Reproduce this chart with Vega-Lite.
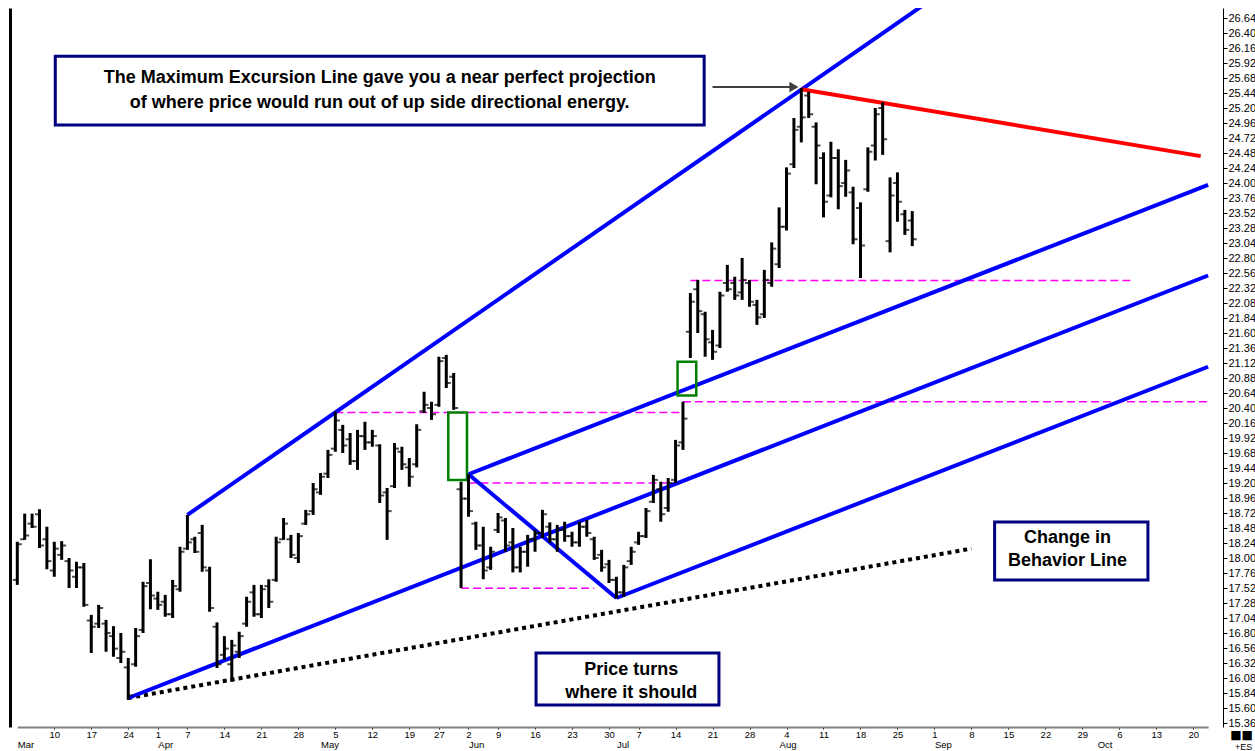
{
  "$schema": "https://vega.github.io/schema/vega-lite/v6.json",
  "width": 1213,
  "height": 719,
  "autosize": {"type": "none"},
  "padding": {"left": 10, "top": 8, "right": 32, "bottom": 24},
  "background": "white",
  "config": {"view": {"stroke": null}, "font": "Liberation Sans", "axis": {"labelFont": "Liberation Sans", "titleFont": "Liberation Sans"}},
  "datasets": {
    "ohlc": [
      {"d":"2008-03-03","o":17.65,"h":18.26,"l":17.57,"c":18.22},
      {"d":"2008-03-04","o":18.30,"h":18.71,"l":18.29,"c":18.36},
      {"d":"2008-03-05","o":18.55,"h":18.71,"l":18.48,"c":18.50},
      {"d":"2008-03-06","o":18.70,"h":18.78,"l":18.16,"c":18.20},
      {"d":"2008-03-07","o":18.30,"h":18.50,"l":17.82,"c":17.95},
      {"d":"2008-03-10","o":17.80,"h":18.26,"l":17.70,"c":18.15},
      {"d":"2008-03-11","o":18.05,"h":18.27,"l":17.97,"c":18.20},
      {"d":"2008-03-12","o":17.95,"h":18.00,"l":17.52,"c":17.80},
      {"d":"2008-03-13","o":17.70,"h":17.94,"l":17.52,"c":17.85},
      {"d":"2008-03-14","o":17.85,"h":17.92,"l":17.22,"c":17.25},
      {"d":"2008-03-17","o":17.00,"h":17.09,"l":16.48,"c":16.90},
      {"d":"2008-03-18","o":16.95,"h":17.25,"l":16.88,"c":17.20},
      {"d":"2008-03-19","o":16.95,"h":17.01,"l":16.50,"c":16.80},
      {"d":"2008-03-20","o":16.75,"h":16.91,"l":16.42,"c":16.55},
      {"d":"2008-03-21","o":16.40,"h":16.80,"l":16.32,"c":16.50},
      {"d":"2008-03-24","o":16.25,"h":16.40,"l":15.73,"c":15.80},
      {"d":"2008-03-25","o":16.30,"h":16.88,"l":16.26,"c":16.75},
      {"d":"2008-03-26","o":16.85,"h":17.62,"l":16.80,"c":17.55},
      {"d":"2008-03-27","o":17.60,"h":17.98,"l":17.18,"c":17.40},
      {"d":"2008-04-01","o":17.35,"h":17.46,"l":17.17,"c":17.25},
      {"d":"2008-04-02","o":17.30,"h":17.41,"l":17.06,"c":17.10},
      {"d":"2008-04-03","o":17.10,"h":17.65,"l":17.04,"c":17.55},
      {"d":"2008-04-04","o":17.50,"h":18.18,"l":17.46,"c":18.10},
      {"d":"2008-04-07","o":18.15,"h":18.69,"l":18.13,"c":18.25},
      {"d":"2008-04-08","o":18.30,"h":18.34,"l":18.08,"c":18.10},
      {"d":"2008-04-09","o":18.40,"h":18.53,"l":17.78,"c":17.85},
      {"d":"2008-04-10","o":17.80,"h":17.86,"l":17.14,"c":17.20},
      {"d":"2008-04-11","o":16.90,"h":16.97,"l":16.24,"c":16.30},
      {"d":"2008-04-14","o":16.45,"h":16.75,"l":16.37,"c":16.55},
      {"d":"2008-04-15","o":16.30,"h":16.69,"l":16.02,"c":16.60},
      {"d":"2008-04-16","o":16.50,"h":16.82,"l":16.40,"c":16.75},
      {"d":"2008-04-17","o":16.95,"h":17.38,"l":16.90,"c":17.30},
      {"d":"2008-04-18","o":17.45,"h":17.57,"l":17.06,"c":17.10},
      {"d":"2008-04-21","o":17.10,"h":17.57,"l":17.04,"c":17.50},
      {"d":"2008-04-22","o":17.55,"h":17.66,"l":17.20,"c":17.30},
      {"d":"2008-04-23","o":17.65,"h":18.34,"l":17.62,"c":18.25},
      {"d":"2008-04-24","o":18.30,"h":18.64,"l":18.29,"c":18.55},
      {"d":"2008-04-25","o":18.30,"h":18.37,"l":18.00,"c":18.05},
      {"d":"2008-04-28","o":18.00,"h":18.40,"l":17.92,"c":18.35},
      {"d":"2008-04-29","o":18.55,"h":18.77,"l":18.53,"c":18.70},
      {"d":"2008-04-30","o":18.75,"h":19.20,"l":18.69,"c":19.10},
      {"d":"2008-05-01","o":19.05,"h":19.36,"l":19.01,"c":19.30},
      {"d":"2008-05-02","o":19.35,"h":19.73,"l":19.28,"c":19.65},
      {"d":"2008-05-05","o":19.75,"h":20.34,"l":19.70,"c":20.20},
      {"d":"2008-05-06","o":20.05,"h":20.13,"l":19.68,"c":19.80},
      {"d":"2008-05-07","o":19.90,"h":20.00,"l":19.49,"c":19.55},
      {"d":"2008-05-08","o":19.55,"h":20.05,"l":19.41,"c":19.95},
      {"d":"2008-05-09","o":19.95,"h":20.18,"l":19.73,"c":19.85},
      {"d":"2008-05-12","o":19.85,"h":20.05,"l":19.78,"c":19.95},
      {"d":"2008-05-13","o":19.80,"h":19.82,"l":18.88,"c":19.00},
      {"d":"2008-05-14","o":19.05,"h":19.12,"l":18.29,"c":18.75},
      {"d":"2008-05-15","o":19.15,"h":19.84,"l":19.12,"c":19.75},
      {"d":"2008-05-16","o":19.70,"h":19.78,"l":19.41,"c":19.50},
      {"d":"2008-05-19","o":19.45,"h":19.60,"l":19.14,"c":19.30},
      {"d":"2008-05-20","o":19.50,"h":20.14,"l":19.45,"c":20.05},
      {"d":"2008-05-21","o":20.35,"h":20.66,"l":20.32,"c":20.45},
      {"d":"2008-05-22","o":20.40,"h":20.50,"l":20.21,"c":20.30},
      {"d":"2008-05-27","o":20.45,"h":21.22,"l":20.42,"c":21.15},
      {"d":"2008-05-28","o":21.20,"h":21.25,"l":20.72,"c":20.80},
      {"d":"2008-05-29","o":20.90,"h":20.96,"l":20.37,"c":20.40},
      {"d":"2008-05-30","o":19.10,"h":19.22,"l":17.52,"c":18.95},
      {"d":"2008-06-02","o":18.95,"h":19.34,"l":18.66,"c":18.75},
      {"d":"2008-06-03","o":18.55,"h":18.58,"l":18.13,"c":18.20},
      {"d":"2008-06-04","o":18.20,"h":18.50,"l":17.66,"c":17.80},
      {"d":"2008-06-05","o":17.85,"h":18.18,"l":17.81,"c":18.10},
      {"d":"2008-06-09","o":18.45,"h":18.72,"l":18.40,"c":18.65},
      {"d":"2008-06-10","o":18.60,"h":18.64,"l":18.10,"c":18.20},
      {"d":"2008-06-11","o":18.25,"h":18.48,"l":17.77,"c":17.85},
      {"d":"2008-06-12","o":17.85,"h":18.18,"l":17.77,"c":18.10},
      {"d":"2008-06-13","o":18.10,"h":18.37,"l":17.86,"c":18.30},
      {"d":"2008-06-16","o":18.30,"h":18.45,"l":18.10,"c":18.40},
      {"d":"2008-06-17","o":18.40,"h":18.77,"l":18.32,"c":18.70},
      {"d":"2008-06-18","o":18.50,"h":18.57,"l":18.24,"c":18.30},
      {"d":"2008-06-19","o":18.30,"h":18.53,"l":18.10,"c":18.45},
      {"d":"2008-06-20","o":18.45,"h":18.58,"l":18.26,"c":18.35},
      {"d":"2008-06-23","o":18.35,"h":18.42,"l":18.18,"c":18.25},
      {"d":"2008-06-24","o":18.25,"h":18.58,"l":18.18,"c":18.50},
      {"d":"2008-06-25","o":18.50,"h":18.61,"l":18.34,"c":18.40},
      {"d":"2008-06-26","o":18.30,"h":18.34,"l":17.97,"c":18.00},
      {"d":"2008-06-27","o":18.05,"h":18.13,"l":17.78,"c":17.85},
      {"d":"2008-06-30","o":17.90,"h":17.97,"l":17.60,"c":17.65},
      {"d":"2008-07-01","o":17.65,"h":17.70,"l":17.35,"c":17.45},
      {"d":"2008-07-02","o":17.45,"h":17.89,"l":17.38,"c":17.85},
      {"d":"2008-07-03","o":17.95,"h":18.18,"l":17.89,"c":18.10},
      {"d":"2008-07-07","o":18.25,"h":18.42,"l":18.21,"c":18.35},
      {"d":"2008-07-08","o":18.35,"h":18.80,"l":18.32,"c":18.75},
      {"d":"2008-07-09","o":18.90,"h":19.33,"l":18.88,"c":19.25},
      {"d":"2008-07-10","o":19.10,"h":19.22,"l":18.58,"c":18.70},
      {"d":"2008-07-11","o":18.80,"h":19.28,"l":18.74,"c":19.20},
      {"d":"2008-07-14","o":19.25,"h":19.89,"l":19.20,"c":19.80},
      {"d":"2008-07-15","o":19.85,"h":20.50,"l":19.73,"c":20.23},
      {"d":"2008-07-16","o":21.62,"h":22.24,"l":21.20,"c":22.10},
      {"d":"2008-07-17","o":22.30,"h":22.45,"l":21.60,"c":21.95},
      {"d":"2008-07-18","o":21.90,"h":21.94,"l":21.22,"c":21.50},
      {"d":"2008-07-21","o":21.45,"h":21.65,"l":21.17,"c":21.30},
      {"d":"2008-07-22","o":21.40,"h":22.26,"l":21.36,"c":22.20},
      {"d":"2008-07-23","o":22.40,"h":22.69,"l":22.26,"c":22.30},
      {"d":"2008-07-24","o":22.40,"h":22.50,"l":22.13,"c":22.20},
      {"d":"2008-07-25","o":22.25,"h":22.80,"l":22.13,"c":22.45},
      {"d":"2008-07-28","o":22.40,"h":22.45,"l":22.02,"c":22.10},
      {"d":"2008-07-29","o":22.05,"h":22.13,"l":21.73,"c":21.85},
      {"d":"2008-07-30","o":21.90,"h":22.61,"l":21.84,"c":22.45},
      {"d":"2008-07-31","o":22.40,"h":23.05,"l":22.34,"c":22.95},
      {"d":"2008-08-01","o":22.70,"h":23.61,"l":22.64,"c":23.30},
      {"d":"2008-08-04","o":23.30,"h":24.25,"l":23.24,"c":24.15},
      {"d":"2008-08-05","o":24.30,"h":25.04,"l":24.24,"c":24.85},
      {"d":"2008-08-06","o":24.90,"h":25.52,"l":24.65,"c":25.05},
      {"d":"2008-08-07","o":25.40,"h":25.46,"l":25.04,"c":25.10},
      {"d":"2008-08-08","o":24.90,"h":24.97,"l":23.98,"c":24.60},
      {"d":"2008-08-11","o":24.40,"h":24.49,"l":23.45,"c":23.70},
      {"d":"2008-08-12","o":23.80,"h":24.66,"l":23.77,"c":24.40},
      {"d":"2008-08-13","o":24.40,"h":24.54,"l":23.58,"c":23.95},
      {"d":"2008-08-14","o":24.00,"h":24.37,"l":23.78,"c":24.20},
      {"d":"2008-08-15","o":23.85,"h":23.94,"l":23.02,"c":23.10},
      {"d":"2008-08-18","o":23.60,"h":23.69,"l":22.48,"c":23.00},
      {"d":"2008-08-19","o":23.90,"h":24.57,"l":23.86,"c":24.50},
      {"d":"2008-08-20","o":24.60,"h":25.20,"l":24.36,"c":25.10},
      {"d":"2008-08-21","o":25.20,"h":25.29,"l":24.45,"c":24.70},
      {"d":"2008-08-22","o":23.07,"h":24.09,"l":22.89,"c":23.80},
      {"d":"2008-08-25","o":24.00,"h":24.17,"l":23.38,"c":23.70},
      {"d":"2008-08-26","o":23.50,"h":23.57,"l":23.17,"c":23.25},
      {"d":"2008-08-27","o":23.40,"h":23.55,"l":22.99,"c":23.10}
    ],
    "blue": [
      {"id":"mel","d":"2008-04-07","p":18.69},{"id":"mel","d":"2008-09-01","p":26.97},
      {"id":"up","d":"2008-06-02","p":19.34},{"id":"up","d":"2008-10-22","p":23.97},
      {"id":"med","d":"2008-03-24","p":15.76},{"id":"med","d":"2008-10-22","p":22.52},
      {"id":"low","d":"2008-07-01","p":17.36},{"id":"low","d":"2008-10-22","p":21.06},
      {"id":"diag","d":"2008-06-02","p":19.34},{"id":"diag","d":"2008-07-01","p":17.36}
    ],
    "red": [{"d":"2008-08-06","p":25.50},{"d":"2008-10-21","p":24.43}],
    "dotted": [{"d":"2008-03-24","p":15.76},{"d":"2008-09-08","p":18.15}],
    "levels": [
      {"d1":"2008-05-05","d2":"2008-07-15","p":20.33},
      {"d1":"2008-07-15","d2":"2008-10-22","p":20.50},
      {"d1":"2008-06-02","d2":"2008-07-15","p":19.20},
      {"d1":"2008-05-30","d2":"2008-06-26","p":17.515},
      {"d1":"2008-07-16","d2":"2008-10-08","p":22.44}
    ],
    "gaps": [
      {"d1":"2008-05-28","d2":"2008-06-02","p1":19.25,"p2":20.33},
      {"d1":"2008-07-14","d2":"2008-07-17","p1":20.60,"p2":21.14}
    ],
    "boxes": [
      {"d1":"2008-03-10","d2":"2008-07-18","p1":24.93,"p2":26.03},
      {"d1":"2008-06-16","d2":"2008-07-22","p1":15.65,"p2":16.48},
      {"d1":"2008-09-11","d2":"2008-10-10","p1":17.648,"p2":18.576}
    ],
    "notes": [
      {"d":"2008-05-13","p":25.68,"t":"The Maximum Excursion Line gave you a near perfect projection"},
      {"d":"2008-05-13","p":25.28,"t":"of where price would run out of up side directional energy."},
      {"d":"2008-07-03","p":16.21,"t":"Price turns"},
      {"d":"2008-07-03","p":15.84,"t":"where it should"},
      {"d":"2008-09-25","p":18.32,"t":"Change in"},
      {"d":"2008-09-25","p":17.95,"t":"Behavior Line"}
    ],
    "arrow": [{"d1":"2008-07-21","d2":"2008-08-05","p":25.536}]
  },
  "encoding": {
    "x": {"field": "d", "type": "ordinal", "axis": null,
      "scale": {"type": "point", "padding": 0, "range": [7.3, 1198.1],
        "domain": ["2008-03-03","2008-03-04","2008-03-05","2008-03-06","2008-03-07","2008-03-10","2008-03-11","2008-03-12","2008-03-13","2008-03-14","2008-03-17","2008-03-18","2008-03-19","2008-03-20","2008-03-21","2008-03-24","2008-03-25","2008-03-26","2008-03-27","2008-04-01","2008-04-02","2008-04-03","2008-04-04","2008-04-07","2008-04-08","2008-04-09","2008-04-10","2008-04-11","2008-04-14","2008-04-15","2008-04-16","2008-04-17","2008-04-18","2008-04-21","2008-04-22","2008-04-23","2008-04-24","2008-04-25","2008-04-28","2008-04-29","2008-04-30","2008-05-01","2008-05-02","2008-05-05","2008-05-06","2008-05-07","2008-05-08","2008-05-09","2008-05-12","2008-05-13","2008-05-14","2008-05-15","2008-05-16","2008-05-19","2008-05-20","2008-05-21","2008-05-22","2008-05-27","2008-05-28","2008-05-29","2008-05-30","2008-06-02","2008-06-03","2008-06-04","2008-06-05","2008-06-09","2008-06-10","2008-06-11","2008-06-12","2008-06-13","2008-06-16","2008-06-17","2008-06-18","2008-06-19","2008-06-20","2008-06-23","2008-06-24","2008-06-25","2008-06-26","2008-06-27","2008-06-30","2008-07-01","2008-07-02","2008-07-03","2008-07-07","2008-07-08","2008-07-09","2008-07-10","2008-07-11","2008-07-14","2008-07-15","2008-07-16","2008-07-17","2008-07-18","2008-07-21","2008-07-22","2008-07-23","2008-07-24","2008-07-25","2008-07-28","2008-07-29","2008-07-30","2008-07-31","2008-08-01","2008-08-04","2008-08-05","2008-08-06","2008-08-07","2008-08-08","2008-08-11","2008-08-12","2008-08-13","2008-08-14","2008-08-15","2008-08-18","2008-08-19","2008-08-20","2008-08-21","2008-08-22","2008-08-25","2008-08-26","2008-08-27","2008-08-28","2008-08-29","2008-09-01","2008-09-02","2008-09-03","2008-09-04","2008-09-05","2008-09-08","2008-09-09","2008-09-10","2008-09-11","2008-09-12","2008-09-15","2008-09-16","2008-09-17","2008-09-18","2008-09-19","2008-09-22","2008-09-23","2008-09-24","2008-09-25","2008-09-26","2008-09-29","2008-09-30","2008-10-01","2008-10-02","2008-10-03","2008-10-06","2008-10-07","2008-10-08","2008-10-09","2008-10-10","2008-10-13","2008-10-14","2008-10-15","2008-10-16","2008-10-17","2008-10-20","2008-10-21","2008-10-22"]}},
    "y": {"field": "p", "type": "quantitative", "axis": null,
      "scale": {"domain": [15.296, 26.8], "nice": false, "zero": false}}
  },
  "resolve": {"axis": {"x": "independent", "y": "independent"}},
  "layer": [
    {
      "data": {"name": "levels"},
      "mark": {"type": "rule", "color": "#ff00ff", "strokeWidth": 1.5, "strokeDash": [8, 4]},
      "encoding": {
        "x": {"field": "d1", "type": "ordinal", "axis": null},
        "x2": {"field": "d2"},
        "y": {"field": "p", "type": "quantitative", "axis": {"orient": "left", "labels": false, "ticks": false, "title": null, "grid": false, "domainColor": "black", "domainWidth": 3}}
      }
    },
    {
      "data": {"name": "dotted"},
      "mark": {"type": "line", "color": "black", "strokeWidth": 4, "strokeDash": [4, 4], "strokeCap": "butt"},
      "encoding": {
        "x": {"field": "d", "type": "ordinal",
          "axis": {"orient": "bottom", "labels": false, "ticks": false, "domain": false, "grid": false,
            "title": "■■", "titleX": 1231, "titleY": 7, "titleBaseline": "middle", "titleAlign": "center", "titleFont": "DejaVu Sans", "titleFontSize": 12, "titleFontWeight": "normal", "titleColor": "black"}}
      }
    },
    {
      "data": {"name": "blue"},
      "mark": {"type": "line", "color": "#0000ff", "strokeWidth": 4, "clip": true},
      "encoding": {"detail": {"field": "id"}}
    },
    {
      "data": {"name": "red"},
      "mark": {"type": "line", "color": "#ff0000", "strokeWidth": 4},
      "encoding": {}
    },
    {
      "data": {"name": "gaps"},
      "mark": {"type": "rect", "fill": null, "fillOpacity": 0, "stroke": "#008000", "strokeWidth": 2.5, "xOffset": 2, "x2Offset": -1.5},
      "encoding": {
        "x": {"field": "d1", "type": "ordinal", "axis": null},
        "x2": {"field": "d2"},
        "y": {"field": "p1", "type": "quantitative", "axis": null},
        "y2": {"field": "p2"}
      }
    },
    {
      "data": {"name": "ohlc"},
      "mark": {"type": "rule", "color": "black", "strokeWidth": 3, "strokeCap": "butt"},
      "encoding": {
        "x": {"field": "d", "type": "ordinal",
          "axis": {"orient": "bottom", "values": ["2008-03-10","2008-03-17","2008-03-24","2008-04-01","2008-04-07","2008-04-14","2008-04-21","2008-04-28","2008-05-05","2008-05-12","2008-05-19","2008-05-27","2008-06-02","2008-06-09","2008-06-16","2008-06-23","2008-06-30","2008-07-07","2008-07-14","2008-07-21","2008-07-28","2008-08-04","2008-08-11","2008-08-18","2008-08-25","2008-09-01","2008-09-08","2008-09-15","2008-09-22","2008-09-29","2008-10-06","2008-10-13","2008-10-20"],
            "labelExpr": "toNumber(substring(datum.value, 8, 10))", "labelAngle": 0, "labelFontSize": 9.5, "labelColor": "black", "labelPadding": 0, "labelBaseline": "top",
            "tickColor": "black", "tickSize": 2, "domainColor": "#808080", "domainWidth": 2, "title": null, "grid": false, "labelOverlap": false}},
        "y": {"field": "l", "type": "quantitative",
          "axis": {"orient": "right", "values": [15.36,15.6,15.84,16.08,16.32,16.56,16.8,17.04,17.28,17.52,17.76,18.0,18.24,18.48,18.72,18.96,19.2,19.44,19.68,19.92,20.16,20.4,20.64,20.88,21.12,21.36,21.6,21.84,22.08,22.32,22.56,22.8,23.04,23.28,23.52,23.76,24.0,24.24,24.48,24.72,24.96,25.2,25.44,25.68,25.92,26.16,26.4,26.64],
            "format": ".2f", "labelFontSize": 11, "labelColor": "black", "labelPadding": 1, "tickSize": 4, "tickColor": "black", "domainColor": "black", "grid": false, "labelOverlap": false,
            "title": "+ES", "titleAngle": 0, "titleX": 20, "titleY": 738, "titleBaseline": "middle", "titleFontSize": 9, "titleFontWeight": "normal", "titleAlign": "center", "titleColor": "black"}},
        "y2": {"field": "h"}
      }
    },
    {
      "data": {"name": "ohlc"},
      "mark": {"type": "tick", "orient": "horizontal", "color": "black", "size": 4, "thickness": 2, "xOffset": -2.5},
      "encoding": {
        "x": {"field": "d", "type": "ordinal",
          "axis": {"orient": "bottom", "values": ["2008-03-03","2008-04-01","2008-05-01","2008-06-02","2008-07-01","2008-08-01","2008-09-01","2008-10-01"],
            "labelExpr": "['Jan','Feb','Mar','Apr','May','Jun','Jul','Aug','Sep','Oct','Nov','Dec'][toNumber(substring(datum.value, 5, 7)) - 1]",
            "labelAngle": 0, "labelAlign": "left", "labelBaseline": "top", "labelFontSize": 9.5, "labelColor": "black", "labelPadding": 12, "ticks": false, "domain": false, "title": null, "grid": false, "labelOverlap": false}},
        "y": {"field": "o", "type": "quantitative", "axis": null}
      }
    },
    {
      "data": {"name": "ohlc"},
      "mark": {"type": "tick", "orient": "horizontal", "color": "black", "size": 4, "thickness": 2, "xOffset": 2.5},
      "encoding": {"y": {"field": "c", "type": "quantitative", "axis": null}}
    },
    {
      "data": {"name": "boxes"},
      "mark": {"type": "rect", "fill": "white", "stroke": "#000080", "strokeWidth": 3, "xOffset": 1, "x2Offset": -1},
      "encoding": {
        "x": {"field": "d1", "type": "ordinal", "axis": null},
        "x2": {"field": "d2"},
        "y": {"field": "p1", "type": "quantitative", "axis": null},
        "y2": {"field": "p2"}
      }
    },
    {
      "data": {"name": "notes"},
      "mark": {"type": "text", "font": "Liberation Sans", "fontWeight": "bold", "fontSize": 18, "color": "black", "align": "center", "baseline": "middle"},
      "encoding": {"text": {"field": "t"}}
    },
    {
      "data": {"name": "arrow"},
      "mark": {"type": "rule", "color": "#404040", "strokeWidth": 2},
      "encoding": {
        "x": {"field": "d1", "type": "ordinal", "axis": null},
        "x2": {"field": "d2"}
      }
    },
    {
      "data": {"name": "arrow"},
      "mark": {"type": "point", "shape": "triangle-right", "filled": true, "color": "#404040", "size": 110, "opacity": 1},
      "encoding": {"x": {"field": "d2", "type": "ordinal", "axis": null}}
    }
  ]
}
